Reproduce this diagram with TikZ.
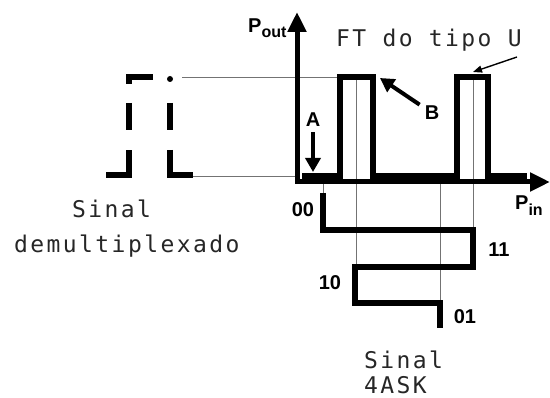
\documentclass[tikz,border=0pt]{standalone}
\usepackage{fontspec}
\setmainfont{Liberation Sans}
\newfontfamily\monofont[LetterSpace=10.5]{DejaVu Sans Mono}
\usetikzlibrary{arrows.meta}
\tikzset{
	axis/.style={line width=5pt, {Triangle[length=20pt,width=18pt]}-{Triangle[length=20pt,width=18pt]}},
	tf/.style={line width=6pt},
	sig/.style={line width=6pt},
	guide/.style={line width=0.8pt, black!55},
	lbl/.style={inner sep=0pt, font=\bfseries\fontsize{20}{20}\selectfont},
	mono/.style={inner sep=0pt, anchor=base west, text=black!85, font=\monofont\fontsize{23}{23}\selectfont},
	bigarrow/.style={line width=4pt, -{Triangle[length=14pt,width=15pt]}},
	thinarrow/.style={line width=1.4pt, -{Triangle[length=9pt,width=7pt]}}
}
\begin{document}
\begin{tikzpicture}[x=1pt,y=-1pt]
	\useasboundingbox (0,0) rectangle (550,398);
	\coordinate (O) at (297,182);
	\coordinate (Ytop) at (297,12);
	\coordinate (Xend) at (550,182);
	\draw[guide] (182,77) -- (340,77);
	\draw[guide] (193,176) -- (O |- 0,176);
	\draw[guide] (323,176) -- (323,195);
	\draw[guide] (356,77) -- (356,267);
	\draw[guide] (440,182) -- (440,303);
	\draw[guide] (473,77) -- (473,230);
	\draw[axis] (Ytop) -- (O) -- (Xend);
	\draw[tf] (302,176) -- (340,176) -- (340,77) -- (373,77) -- (373,176) -- (457,176) -- (457,77) -- (488,77) -- (488,176) -- (527,176);
	\draw[sig] (106,175) -- (129,175) -- (129,150);
	\foreach \x in {129,170}
		\draw[sig] (\x,103) -- (\x,130);
	\draw[sig] (129,84) -- (129,77) -- (153,77);
	\fill (170,79) circle (3);
	\draw[sig] (170,150) -- (170,175) -- (193,175);
	\draw[sig] (323,193) -- (323,230) -- (473,230) -- (473,267) -- (355,267) -- (355,303) -- (440,303) -- (440,328);
	\node[lbl, anchor=base west] (Pout) at (248,33) {P\raisebox{-5pt}{\fontsize{16}{16}\selectfont out}};
	\node[lbl, anchor=base west] (Pin) at (515,210) {P\raisebox{-6pt}{\fontsize{16}{16}\selectfont in}};
	\node[lbl] (A) at (313,120) {A};
	\coordinate (Atip) at (313,172);
	\draw[bigarrow, line width=3.5pt, shorten <=5pt] (A) -- (Atip);
	\node[lbl] (B) at (432,113) {B};
	\coordinate (Btip) at (380,78);
	\draw[bigarrow, shorten <=6pt] (B) -- (Btip);
	\node[mono] (FT) at (336,47) {FT do tipo U};
	\coordinate (FTfrom) at (517,57);
	\coordinate (FTto) at (473,72);
	\draw[thinarrow] (FTfrom) -- (FTto);
	\node[lbl] (l00) at (303,210) {00};
	\node[lbl] (l11) at (499,250) {11};
	\node[lbl] (l10) at (330,283) {10};
	\node[lbl] (l01) at (465,317) {01};
	\node[mono] (demux1) at (72,218) {Sinal};
	\node[mono] (demux2) at (14,253) {demultiplexado};
	\node[mono] (ask1) at (364,369) {Sinal};
	\node[mono] (ask2) at (364,394) {4ASK};
\end{tikzpicture}
\end{document}
